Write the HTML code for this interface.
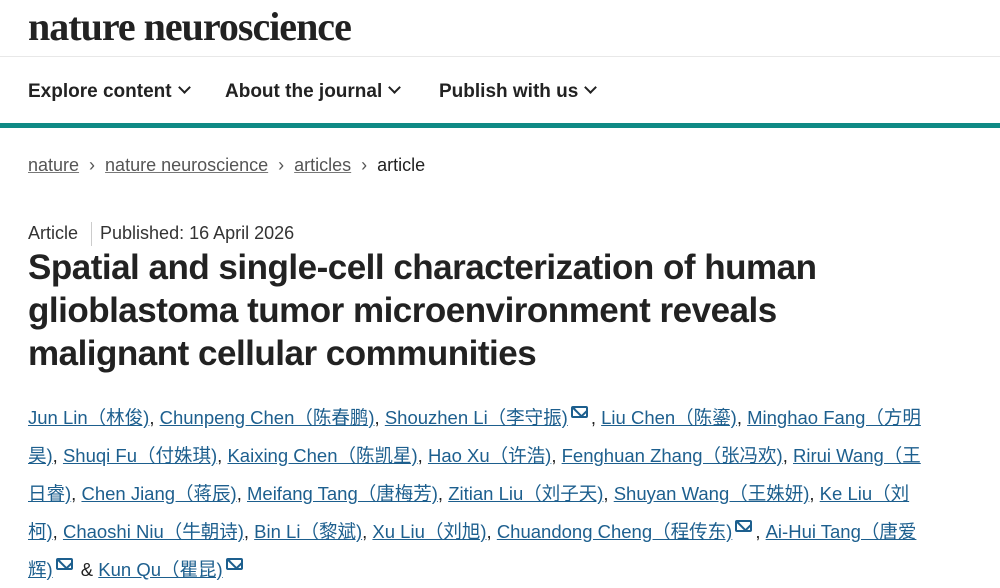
<!DOCTYPE html>
<html><head><meta charset="utf-8"><style>
body{margin:0;width:1000px;height:588px;background:#fff;overflow:hidden;position:relative;font-family:"Liberation Sans","Noto Sans CJK SC",sans-serif;color:#222}
.a{position:absolute;white-space:nowrap}
.logo{left:28px;top:3px;font-family:"Liberation Serif",serif;font-weight:bold;font-size:40px;letter-spacing:-1.0px;color:#222}
.nav{top:81px;font-weight:bold;font-size:19px;color:#222}
.chev{display:inline-block;width:7px;height:7px;border-right:2px solid #222;border-bottom:2px solid #222;transform:rotate(45deg);margin-left:8px;position:relative;top:-5px}
.bc{top:155px;font-size:18px;color:#555}
.bc u{text-decoration-color:#777}
.title{left:28px;font-weight:bold;font-size:35px;letter-spacing:-0.5px;color:#222}
.au{left:28px;font-size:18.5px;color:#222}
.au u{color:#1d5f8e;text-decoration-color:#1d5f8e}
.m{display:inline-block;width:17px;height:12px;border:2px solid #1d5f8e;border-radius:2px;position:relative;top:-6px;margin:0 3px;box-sizing:border-box;overflow:hidden}
.m:after{content:"";position:absolute;left:2px;top:-6px;width:9px;height:9px;border:2px solid #1d5f8e;transform:rotate(45deg)}
</style></head><body>
<div class="a logo">nature neuroscience</div>
<div style="position:absolute;left:0;top:56px;width:1000px;height:1px;background:#e8e8e8"></div>
<div class="a nav" style="left:28px">Explore content<span class="chev"></span></div>
<div class="a nav" style="left:225px">About the journal<span class="chev"></span></div>
<div class="a nav" style="left:439px">Publish with us<span class="chev"></span></div>
<div style="position:absolute;left:0;top:123px;width:1000px;height:5px;background:#0f8a85"></div>
<div class="a bc" style="left:28px"><u>nature</u> &nbsp;›&nbsp; <u>nature neuroscience</u> &nbsp;›&nbsp; <u>articles</u> &nbsp;›&nbsp; <span style="color:#222">article</span></div>
<div class="a" style="left:28px;top:222px;font-size:18px;color:#333">Article <span style="display:inline-block;width:1px;height:24px;background:#ccc;vertical-align:middle;margin:0 8px"></span>Published: 16 April 2026</div>
<div class="a title" style="top:248px">Spatial and single-cell characterization of human</div>
<div class="a title" style="top:291px">glioblastoma tumor microenvironment reveals</div>
<div class="a title" style="top:334px">malignant cellular communities</div>
<div class="a au" style="top:404px"><u>Jun Lin（林俊)</u>, <u>Chunpeng Chen（陈春鹏)</u>, <u>Shouzhen Li（李守振)</u><span class="m"></span>, <u>Liu Chen（陈鎏)</u>, <u>Minghao Fang（方明</u></div>
<div class="a au" style="top:442px"><u>昊)</u>, <u>Shuqi Fu（付姝琪)</u>, <u>Kaixing Chen（陈凯星)</u>, <u>Hao Xu（许浩)</u>, <u>Fenghuan Zhang（张冯欢)</u>, <u>Rirui Wang（王</u></div>
<div class="a au" style="top:480px"><u>日睿)</u>, <u>Chen Jiang（蒋辰)</u>, <u>Meifang Tang（唐梅芳)</u>, <u>Zitian Liu（刘子天)</u>, <u>Shuyan Wang（王姝妍)</u>, <u>Ke Liu（刘</u></div>
<div class="a au" style="top:518px"><u>柯)</u>, <u>Chaoshi Niu（牛朝诗)</u>, <u>Bin Li（黎斌)</u>, <u>Xu Liu（刘旭)</u>, <u>Chuandong Cheng（程传东)</u><span class="m"></span>, <u>Ai-Hui Tang（唐爱</u></div>
<div class="a au" style="top:556px"><u>辉)</u><span class="m"></span> &amp; <u>Kun Qu（瞿昆)</u><span class="m"></span></div>
</body></html>
